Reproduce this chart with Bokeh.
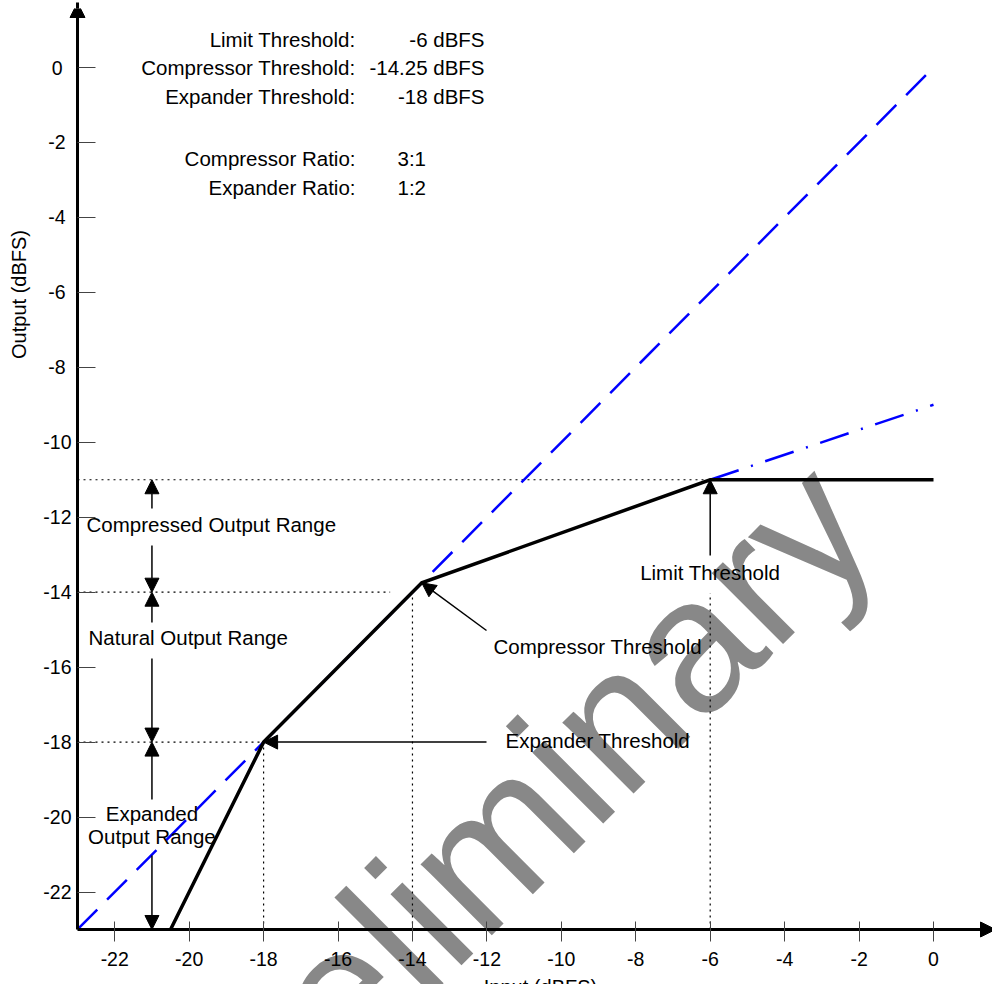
from bokeh.plotting import figure
from bokeh.models import (Range1d, FixedTicker, Label, Arrow, NormalHead, ColumnDataSource,
                          LinearAxis)
from bokeh.embed import file_html
from bokeh.resources import INLINE

# ---------------- data ----------------
x_ticks = [-22, -20, -18, -16, -14, -12, -10, -8, -6, -4, -2, 0]
y_ticks = [-22, -20, -18, -16, -14, -12, -10, -8, -6, -4, -2, 0]

# static transfer curve (input dBFS -> output dBFS)
transfer_in = [-20.5, -18.0, -13.75, -6.0, 0.0]
transfer_out = [-23.0, -18.0, -13.75, -11.0, -11.0]

# unity (1:1) reference
unity_in = [-23.0, 0.0]
unity_out = [-23.0, 0.0]

# compressor slope continued above the limit threshold
comp_ext_in = [-6.0, 0.0]
comp_ext_out = [-11.0, -9.0]

# output range boundaries: compressed top, natural top, expanded top, floor
range_bounds = [-11.0, -14.0, -18.0, -23.0]

# threshold reference levels
limit_in, limit_out = -6.0, -11.0
comp_in = -14.0
exp_in, exp_out = -18.0, -18.0
axis_origin = -23.0

info_names = ["Limit Threshold:", "Compressor Threshold:", "Expander Threshold:",
              "Compressor Ratio:", "Expander Ratio:"]
info_values = ["-6 dBFS", "-14.25 dBFS", "-18 dBFS", "3:1", "1:2"]

# ---------------- layout helpers ----------------
FONT = "Liberation Sans"
W, H = 992, 984
TOP = 8
PX_X = 37.217
PX_Y = 37.478
BASE_FIX = 8.0   # alphabetic-baseline correction for 20px labels


def dx(page_x):
    return (page_x - 933.0) / PX_X


def dy(page_y):
    return (67.0 - page_y) / PX_Y


p = figure(width=W, height=H,
           x_range=Range1d(dx(0), dx(W)), y_range=Range1d(dy(H), dy(TOP)),
           output_backend="svg", toolbar_location=None,
           x_axis_location=None, y_axis_location=None,
           min_border_left=0, min_border_right=0, min_border_top=TOP, min_border_bottom=0)
p.outline_line_color = None
p.grid.visible = False
p.background_fill_color = "white"
p.border_fill_color = "white"


def style_axis(ax, ticks, labels):
    ax.ticker = FixedTicker(ticks=ticks)
    ax.major_label_overrides = labels
    ax.minor_tick_line_color = None
    ax.major_label_text_font = FONT
    ax.major_label_text_font_size = "19.5px"
    ax.major_label_text_color = "black"


xaxis = LinearAxis(fixed_location=axis_origin, bounds=(axis_origin, dx(W)))
style_axis(xaxis, x_ticks, {t: str(t) for t in x_ticks})
xaxis.axis_line_width = 3
xaxis.axis_line_color = "black"
xaxis.major_tick_line_width = 1
xaxis.major_tick_line_color = "#444444"
xaxis.major_tick_in = 8
xaxis.major_tick_out = 12
xaxis.major_label_standoff = 11
p.add_layout(xaxis, "below")

# y axis: labels are centred under each other, emulated with per-width standoffs
two_digit = [t for t in y_ticks if len(str(t)) == 3]
one_digit = [t for t in y_ticks if len(str(t)) == 2]
zero_only = [t for t in y_ticks if len(str(t)) == 1]

yaxis = LinearAxis(fixed_location=axis_origin, bounds=(axis_origin, dy(TOP)))
style_axis(yaxis, y_ticks, {t: (str(t) if t in two_digit else "") for t in y_ticks})
yaxis.axis_line_width = 3
yaxis.axis_line_color = "black"
yaxis.major_tick_line_width = 1
yaxis.major_tick_line_color = "#444444"
yaxis.major_tick_in = 18
yaxis.major_tick_out = 0
yaxis.major_label_standoff = 6
p.add_layout(yaxis, "left")

for ticks, standoff in ((one_digit, 12), (zero_only, 15)):
    ax = LinearAxis(fixed_location=axis_origin, bounds=(axis_origin, dy(TOP)))
    style_axis(ax, ticks, {t: str(t) for t in ticks})
    ax.axis_line_color = None
    ax.major_tick_line_color = None
    ax.major_tick_in = 0
    ax.major_tick_out = 0
    ax.major_label_standoff = standoff
    p.add_layout(ax, "left")

# watermark (beneath everything)
p.add_layout(Label(x=dx(166.5), y=dy(1166), text="Preliminary", angle=45, angle_units="deg",
                   text_font=FONT, text_font_size="190px", text_color="#888888",
                   text_align="left", text_baseline="alphabetic", level="underlay"))

# dotted reference lines
dot_src = ColumnDataSource(dict(
    x0=[axis_origin, axis_origin, axis_origin, exp_in, comp_in, limit_in],
    y0=[limit_out, range_bounds[1], exp_out, axis_origin, axis_origin, axis_origin],
    x1=[limit_in, -14.6, exp_in, exp_in, comp_in, limit_in],
    y1=[limit_out, range_bounds[1], exp_out, exp_out, -14.14, -14.03],
))
p.segment("x0", "y0", "x1", "y1", source=dot_src, line_color="black", line_width=1.2,
          line_dash="2 4")

# unity dashed line and compressor extension
p.line(unity_in, unity_out, line_color="#0000ff", line_width=2.5, line_dash="28 14")
p.line(comp_ext_in, comp_ext_out, line_color="#0000ff", line_width=2.5, line_dash="30 13 2 13")

# transfer curve
p.line(transfer_in, transfer_out, line_color="black", line_width=3.5, line_join="miter")

# axis arrow heads
for xs, ys, xe, ye in ((axis_origin, 0.0, axis_origin, dy(2)),
                       (0.0, axis_origin, dx(995), axis_origin)):
    p.add_layout(Arrow(end=NormalHead(size=15, fill_color="black", line_color="black"),
                       x_start=xs, y_start=ys, x_end=xe, y_end=ye,
                       line_width=3, line_color="black"))

# range arrows at x = -21
rx = -21.0
gaps = [(dy(508), dy(545)), (dy(622), dy(658)), (dy(799), dy(855))]
arr = dict(xs=[], ys=[], xe=[], ye=[])
for i, (g_top, g_bot) in enumerate(gaps):
    top, bot = range_bounds[i], range_bounds[i + 1]
    arr["xs"] += [rx, rx]
    arr["ys"] += [g_top, g_bot]
    arr["xe"] += [rx, rx]
    arr["ye"] += [top, bot]

# threshold pointer arrows
arr["xs"] += [limit_in, dx(486), dx(486)]
arr["ys"] += [dy(555), dy(630), exp_out]
arr["xe"] += [transfer_in[3], transfer_in[2], transfer_in[1]]
arr["ye"] += [transfer_out[3], transfer_out[2], transfer_out[1]]

p.add_layout(Arrow(end=NormalHead(size=14, fill_color="black", line_color="black", line_width=1),
                   x_start="xs", y_start="ys", x_end="xe", y_end="ye",
                   source=ColumnDataSource(arr), line_width=1.5, line_color="black"))


def label(x, base_page_y, text, align="left", size="20.5px"):
    p.add_layout(Label(x=x, y=dy(base_page_y - BASE_FIX), text=text, text_font=FONT,
                       text_font_size=size, text_color="black", text_align=align,
                       text_baseline="alphabetic"))


# info block
info_base = [46.5, 75.0, 103.5, 166.0, 194.5]
for name, val, b in zip(info_names, info_values, info_base):
    label(dx(355), b, name, align="right")
    if "dBFS" not in val:
        label(dx(397), b, val, align="left")
    else:
        label(dx(484), b, val, align="right")

# range annotations
label(dx(86), 532, "Compressed Output Range")
label(dx(88), 645, "Natural Output Range")
label(rx, 821, "Expanded", align="center")
label(rx, 844, "Output Range", align="center")
label(limit_in, 580, "Limit Threshold", align="center")
label(dx(493), 654, "Compressor Threshold")
label(dx(505), 748, "Expander Threshold")

# axis titles
p.add_layout(Label(x=dx(18), y=dy(294), text="Output (dBFS)", text_font=FONT,
                   text_font_size="20px", text_color="black", text_align="center",
                   text_baseline="middle", angle=90, angle_units="deg"))
label(dx(540), 994, "Input (dBFS)", align="center", size="20px")

open("out.html", "w").write(file_html(p, INLINE))
